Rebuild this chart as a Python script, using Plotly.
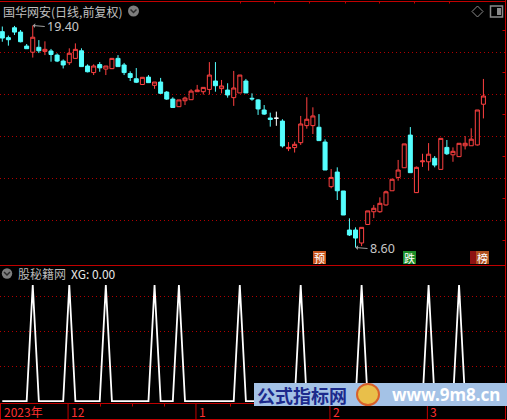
import plotly.graph_objects as go

W, H = 507, 420

# ---------------- data ----------------
opens = [19.10, 18.81, 19.29, 19.08, 18.40, 18.10, 18.34, 18.14, 18.16, 17.96,
         17.67, 17.59, 17.80, 18.17, 17.43, 17.11, 17.50, 17.28, 17.30, 17.80,
         17.48, 17.06, 16.81, 16.53, 16.89, 16.49, 16.65, 16.16, 15.82, 15.45,
         15.74, 15.79, 16.18, 16.18, 16.29, 16.70, 16.33, 16.26, 15.89, 16.12,
         16.70, 15.86, 15.78, 15.29, 14.90, 14.89, 14.75, 13.41, 13.46, 13.70,
         14.53, 14.53, 14.45, 13.73, 11.56, 12.27, 11.35, 9.45, 9.45, 8.82,
         9.72, 10.34, 10.34, 10.67, 11.36, 12.01, 12.48, 14.07, 11.27, 12.77,
         12.77, 12.94, 12.40, 13.47, 13.11, 13.02, 13.55, 13.55, 13.59, 15.57]
highs = [19.35, 18.91, 19.38, 19.18, 18.50, 19.40, 18.69, 18.63, 18.26, 18.04,
         17.75, 18.29, 18.53, 18.29, 17.51, 17.51, 17.62, 17.43, 17.82, 17.96,
         17.58, 17.17, 17.33, 16.89, 16.99, 16.65, 16.85, 16.21, 15.91, 15.78,
         15.94, 16.30, 16.51, 16.39, 17.62, 17.62, 16.75, 16.59, 17.19, 16.99,
         16.80, 16.10, 15.82, 15.53, 15.16, 15.21, 14.84, 13.73, 13.75, 15.00,
         15.91, 15.42, 15.09, 13.86, 12.42, 12.50, 11.35, 10.02, 9.58, 9.58,
         10.38, 10.67, 11.04, 11.37, 11.92, 12.86, 13.64, 14.46, 12.54, 13.16,
         13.68, 13.05, 13.91, 13.83, 13.47, 13.68, 14.02, 14.40, 15.29, 16.80]
lows = [18.61, 18.42, 18.94, 18.58, 18.26, 17.84, 18.06, 17.96, 17.64, 17.62,
        17.31, 17.48, 17.77, 17.40, 17.12, 16.99, 17.15, 16.99, 17.28, 17.40,
        16.99, 16.70, 16.60, 16.52, 16.62, 16.32, 16.07, 15.78, 15.40, 15.45,
        15.53, 15.78, 16.18, 16.04, 16.04, 16.18, 16.10, 15.89, 15.49, 16.12,
        16.12, 15.74, 15.05, 15.05, 14.48, 14.52, 13.46, 13.29, 13.22, 13.59,
        14.38, 14.12, 13.80, 12.37, 11.48, 10.91, 10.18, 9.16, 8.60, 8.67,
        9.70, 10.03, 10.29, 10.64, 11.36, 11.85, 12.47, 12.24, 11.25, 12.52,
        12.34, 12.50, 12.40, 13.10, 12.77, 13.00, 13.37, 13.55, 13.56, 14.88]
closes = [18.79, 18.71, 19.08, 18.61, 18.27, 18.83, 18.17, 18.24, 17.99, 17.67,
          17.48, 18.05, 18.24, 17.40, 17.15, 17.43, 17.34, 17.43, 17.80, 17.40,
          17.11, 16.87, 16.64, 16.88, 16.62, 16.65, 16.10, 15.82, 15.41, 15.78,
          15.87, 16.21, 16.26, 16.39, 16.99, 16.47, 16.46, 16.02, 16.36, 16.99,
          16.12, 15.83, 15.34, 15.09, 14.83, 14.89, 13.54, 13.47, 13.62, 14.61,
          14.84, 15.00, 13.80, 12.37, 12.01, 11.36, 10.18, 9.21, 9.06, 9.58,
          10.38, 10.51, 10.75, 11.31, 11.92, 12.37, 13.64, 12.24, 12.50, 12.81,
          13.14, 12.61, 13.91, 13.16, 13.28, 13.67, 13.67, 13.87, 15.29, 15.97]
xg = [0, 0, 0, 0, 0, 1, 0, 0, 0, 0,
      0, 1, 0, 0, 0, 0, 0, 1, 0, 0,
      0, 0, 0, 0, 0, 1, 0, 0, 0, 1,
      0, 0, 0, 0, 0, 0, 0, 0, 0, 1,
      0, 0, 0, 0, 0, 0, 0, 0, 0, 1,
      0, 0, 0, 0, 0, 0, 0, 0, 0, 1,
      0, 0, 0, 0, 0, 0, 0, 0, 0, 0,
      1, 0, 0, 0, 0, 1, 0, 0, 0, 0]
month_starts = [11, 32, 54, 70]
month_labels = ["12", "1", "2", "3"]
year_label = "2023年"
title_text = "国华网安(日线,前复权)"
ind_name = "股秘籍网"
ind_value = "XG: 0.00"
hi_idx, hi_val = 5, 19.40
lo_idx, lo_val = 58, 8.60

# ---------------- style ----------------
RED = "#ff4040"
CYAN = "#54ffff"
FRAME = "#c00000"
GRID = "#b00000"
GRAY = "#c0c0c0"
CJK = "Noto Sans CJK SC, Noto Sans, sans-serif"


def px(x):
    return x / W


def py(y):
    return 1 - y / H


n = len(opens)
idx = list(range(n))
x_rng = [(0 - 2.3) / 6.09, (505 - 2.3) / 6.09]


def subset(cond):
    s = [i for i in idx if cond(opens[i], closes[i])]
    return dict(x=s, open=[opens[i] for i in s], high=[highs[i] for i in s],
                low=[lows[i] for i in s], close=[closes[i] for i in s])


def candle(data, line_color, fill):
    sty = dict(line=dict(color=line_color, width=1), fillcolor=fill)
    return go.Candlestick(**data, increasing=sty, decreasing=sty, whiskerwidth=0,
                          xaxis="x", yaxis="y", showlegend=False, hoverinfo="skip")


fig = go.Figure()
fig.add_trace(candle(subset(lambda o, c: c > o), RED, "#000000"))
fig.add_trace(candle(subset(lambda o, c: c < o), CYAN, CYAN))
fig.add_trace(candle(subset(lambda o, c: c == o), "#ffffff", "#ffffff"))
fig.add_trace(go.Scatter(x=idx, y=xg, mode="lines", line=dict(color="#ffffff", width=1.8),
                         xaxis="x2", yaxis="y2", showlegend=False, hoverinfo="skip"))

grid_prices = [18.111, 16.068, 14.024, 11.981, 9.938]

fig.update_layout(
    width=W, height=H, margin=dict(l=0, r=0, t=0, b=0),
    paper_bgcolor="#000000", plot_bgcolor="#000000",
    boxgap=0.34, boxgroupgap=0,
    xaxis=dict(domain=[0, px(505)], range=x_rng, showticklabels=False, showgrid=False,
               zeroline=False, rangeslider=dict(visible=False), anchor="y"),
    yaxis=dict(domain=[py(265), py(1)], range=[7.749, 20.592], tickvals=grid_prices,
               showticklabels=False, showgrid=True, gridcolor=GRID, griddash="1px,3px",
               gridwidth=1, zeroline=False, anchor="x"),
    xaxis2=dict(domain=[0, px(505)], range=x_rng, showticklabels=False, showgrid=False,
                zeroline=False, anchor="y2"),
    yaxis2=dict(domain=[py(403), py(265)], range=[-0.017, 1.172], tickvals=[0.3, 0.6, 0.9],
                showticklabels=False, showgrid=True, gridcolor=GRID, griddash="1px,3px",
                gridwidth=1, zeroline=False, anchor="x2"),
)

shapes = []


def hline(y, x0=0, x1=505.5, color=FRAME, w=1):
    shapes.append(dict(type="line", xref="paper", yref="paper", x0=px(x0), x1=px(x1),
                       y0=py(y), y1=py(y), line=dict(color=color, width=w), layer="above"))


def vline(x, y0, y1, color=FRAME, w=1):
    shapes.append(dict(type="line", xref="paper", yref="paper", x0=px(x), x1=px(x),
                       y0=py(y0), y1=py(y1), line=dict(color=color, width=w), layer="above"))


# frame
hline(1.5)
hline(265.5)
hline(403.5)
hline(419.5)
vline(505.5, 0, 420)
vline(0.5, 403, 420)
for tx in [240.5, 274.5, 309.5, 345.5, 379.5, 414.5, 449.5]:
    vline(tx, 1, 3.5)
for ty in [30.5, 72.5, 114.5, 156.5, 198.5, 240.5]:
    hline(ty, 502.5, 505.5)
for tx in [100.5, 132.5, 164.5, 230.5]:
    vline(tx, 403, 406.5)

# month separators in data coordinates
for m in month_starts:
    shapes.append(dict(type="line", xref="x2", yref="paper", x0=m - 0.2, x1=m - 0.2,
                       y0=py(403), y1=py(419.5), line=dict(color=FRAME, width=1), layer="above"))


# icons
def circle_icon(cx, cy, r):
    shapes.append(dict(type="circle", xref="paper", yref="paper", x0=px(cx - r), x1=px(cx + r),
                       y0=py(cy + r), y1=py(cy - r), fillcolor="#7d7d7d", line=dict(width=0)))
    shapes.append(dict(type="path", xref="paper", yref="paper",
                       path=f"M {px(cx-3)},{py(cy-1.5)} L {px(cx)},{py(cy+1.5)} L {px(cx+3)},{py(cy-1.5)}",
                       line=dict(color="#2a2a2a", width=1.5)))


circle_icon(133.5, 11, 5.5)
circle_icon(7, 273.5, 5.2)

shapes.append(dict(type="path", xref="paper", yref="paper",
                   path=f"M {px(477.5)},{py(6)} L {px(483)},{py(11.5)} L {px(477.5)},{py(17)} L {px(472)},{py(11.5)} Z",
                   line=dict(color="#8a8a8a", width=1)))
shapes.append(dict(type="rect", xref="paper", yref="paper", x0=px(490.5), x1=px(502.5),
                   y0=py(17), y1=py(6), line=dict(color="#8a8a8a", width=1.5)))
shapes.append(dict(type="rect", xref="paper", yref="paper", x0=px(497), x1=px(501),
                   y0=py(15), y1=py(8), fillcolor="#8a8a8a", line=dict(width=0)))


def badge(x0, x1, color):
    shapes.append(dict(type="rect", xref="paper", yref="paper", x0=px(x0), x1=px(x1),
                       y0=py(264), y1=py(251), fillcolor=color, line=dict(width=0), layer="above"))


badge(313, 326, "#c8561e")
badge(403, 416, "#1c8c28")
badge(470, 478, "#8c1212")
badge(476, 489, "#b0501e")

# watermark
shapes.append(dict(type="rect", xref="paper", yref="paper", x0=px(254), x1=px(507),
                   y0=py(406), y1=py(383), fillcolor="#a4c2e6", line=dict(width=0), layer="above"))
shapes.append(dict(type="circle", xref="paper", yref="paper", x0=px(357), x1=px(379),
                   y0=py(405), y1=py(384), fillcolor="#e9bf4a", line=dict(color="#d8602a", width=2),
                   layer="above"))

fig.update_layout(shapes=shapes)

ann = []


def text(x, y, s, size=13, color=GRAY, xanchor="left", family=CJK, **kw):
    ann.append(dict(x=px(x), y=py(y), xref="paper", yref="paper", text=s, showarrow=False,
                    xanchor=xanchor, yanchor="middle", font=dict(size=size, color=color, family=family), **kw))


text(1, 11, title_text, size=12)
text(16, 273.5, ind_name, size=12, color="#b8b8b8")
text(69, 273.5, ind_value, size=12, color="#e8e8e8")
text(2, 411.5, year_label, size=12, color="#ff3030")
for m, lab in zip(month_starts, month_labels):
    ann.append(dict(x=m - 0.2, y=py(411.5), xref="x2", yref="paper", text=lab, showarrow=False,
                    xanchor="left", yanchor="middle", xshift=1,
                    font=dict(size=12, color="#ff3030", family=CJK)))

text(319.5, 257.5, "预", size=11, color="#ffffff", xanchor="center")
text(409.5, 257.5, "跌", size=11, color="#ffffff", xanchor="center")
text(482.5, 257.5, "榜", size=11, color="#ffffff", xanchor="center")

# high/low markers
for i, v, lab in [(hi_idx, hi_val, f"{hi_val:.2f}"), (lo_idx, lo_val, f"{lo_val:.2f}")]:
    ann.append(dict(x=i, y=v, xref="x", yref="y", text=lab, showarrow=True, ax=12, ay=1,
                    arrowhead=1, arrowsize=0.8, arrowwidth=1, arrowcolor="#a0a0a0",
                    xanchor="left", yanchor="middle",
                    font=dict(size=12.5, color="#c8c8c8", family="Noto Sans, sans-serif")))

# watermark text
text(302, 394.5, "<b>公式指标网</b>", size=18, color="#1c2a8c", xanchor="center")
text(446, 394.5, "<b>www.9m8.cn</b>", size=17, color="#ffffff", xanchor="center",
     family="Noto Sans, sans-serif")

fig.update_layout(annotations=ann)
fig.write_html("out.html", config={"displayModeBar": False},
               post_script="document.body.style.margin='0';document.body.style.padding='0';")
